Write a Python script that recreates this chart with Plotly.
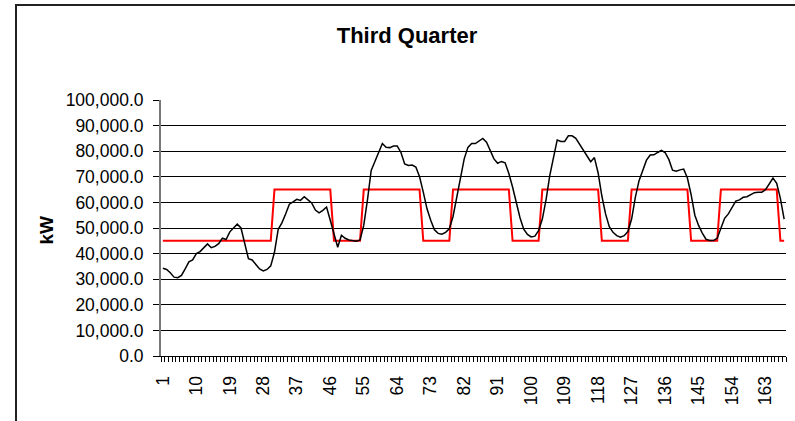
import plotly.graph_objects as go

# Hour-of-week index (7 days x 24 hours)
hours = list(range(1, 169))

# Metered load, kW
load_kw = [
    34300, 33800, 32500, 30800, 30600, 31500, 34000, 36800, 37500, 40000,
    40800, 42500, 43800, 42300, 42800, 43900, 46000, 45500, 48500, 50000,
    51500, 50000, 43500, 38000, 37500, 35800, 34000, 33200, 33800, 35200,
    40500, 49500, 52000, 55500, 59300, 60200, 61200, 60800, 62200, 61000,
    59800, 57000, 55900, 56900, 58200, 53000, 47800, 42500, 47200, 46000,
    45300, 45100, 44800, 45300, 51000, 61000, 72500, 76000, 79500, 83000,
    81500, 81400, 82000, 82000, 79500, 75000, 74400, 74600, 73800, 70000,
    64000, 57500, 53000, 49300, 47900, 47600, 48300, 49700, 54500, 62000,
    69500, 77000, 81500, 83000, 83000, 84000, 85000, 83500, 80000, 77000,
    75300, 76000, 75500, 71300, 66000, 60000, 54000, 49500, 47500, 46500,
    46800, 49000, 53500, 61000, 70500, 77500, 84400, 83800, 83800, 86000,
    86000, 85000, 82800, 80700, 78000, 75900, 77500, 71500, 62500, 55500,
    50500, 48300, 47000, 46400, 47000, 48600, 53500, 62000, 68500, 72500,
    76500, 78500, 78600, 79500, 80300, 79500, 76800, 72600, 72200, 72700,
    73000, 69500, 63000, 55000, 51000, 48000, 45600, 45100, 45100, 46000,
    50000, 53800, 55500, 58000, 60500, 61000, 62000, 62200, 63000, 63800,
    64000, 64000, 65000, 67500, 69500, 67500, 61500, 53500,
]

# Contracted demand level, kW
target_kw = [
    45000, 45000, 45000, 45000, 45000, 45000, 45000, 45000, 45000, 45000,
    45000, 45000, 45000, 45000, 45000, 45000, 45000, 45000, 45000, 45000,
    45000, 45000, 45000, 45000, 45000, 45000, 45000, 45000, 45000, 45000,
    65000, 65000, 65000, 65000, 65000, 65000, 65000, 65000, 65000, 65000,
    65000, 65000, 65000, 65000, 65000, 65000, 45000, 45000, 45000, 45000,
    45000, 45000, 45000, 45000, 65000, 65000, 65000, 65000, 65000, 65000,
    65000, 65000, 65000, 65000, 65000, 65000, 65000, 65000, 65000, 65000,
    45000, 45000, 45000, 45000, 45000, 45000, 45000, 45000, 65000, 65000,
    65000, 65000, 65000, 65000, 65000, 65000, 65000, 65000, 65000, 65000,
    65000, 65000, 65000, 65000, 45000, 45000, 45000, 45000, 45000, 45000,
    45000, 45000, 65000, 65000, 65000, 65000, 65000, 65000, 65000, 65000,
    65000, 65000, 65000, 65000, 65000, 65000, 65000, 65000, 45000, 45000,
    45000, 45000, 45000, 45000, 45000, 45000, 65000, 65000, 65000, 65000,
    65000, 65000, 65000, 65000, 65000, 65000, 65000, 65000, 65000, 65000,
    65000, 65000, 45000, 45000, 45000, 45000, 45000, 45000, 45000, 45000,
    65000, 65000, 65000, 65000, 65000, 65000, 65000, 65000, 65000, 65000,
    65000, 65000, 65000, 65000, 65000, 65000, 45000, 45000,
]

# Every ninth hour gets a label
label_hours = hours[::9]
label_text = [str(h) for h in label_hours]

FONT = "Liberation Sans, Arial, sans-serif"

fig = go.Figure()
fig.add_trace(go.Scatter(
    x=hours, y=target_kw, mode="lines",
    line=dict(color="#ff0000", width=2), showlegend=False,
))
fig.add_trace(go.Scatter(
    x=hours, y=load_kw, mode="lines",
    line=dict(color="#000000", width=1.5), showlegend=False,
))

fig.update_layout(
    width=795, height=421,
    margin=dict(l=161, r=9, t=100, b=65),
    paper_bgcolor="white", plot_bgcolor="white",
    font=dict(family=FONT, color="#000000"),
    title=dict(
        text="<b>Third Quarter</b>",
        x=407 / 795, xref="container", xanchor="center",
        y=1 - 35 / 421, yref="container", yanchor="middle",
        font=dict(family=FONT, size=22, color="#000000"),
    ),
    xaxis=dict(
        range=[0.5, 168.5],
        tickmode="array", tickvals=label_hours, ticktext=label_text,
        tickangle=-90, ticks="", ticklabelstandoff=12,
        tickfont=dict(family=FONT, size=17.5, color="#000000"),
        showgrid=False, zeroline=False,
        showline=True, linecolor="#000000", linewidth=1,
        minor=dict(ticks="outside", ticklen=5, tickwidth=1, tickcolor="#000000",
                   tickmode="linear", tick0=0.5, dtick=1, showgrid=False),
    ),
    yaxis=dict(
        range=[0, 100000], tickmode="linear", tick0=0, dtick=10000,
        tickformat=",.1f",
        tickfont=dict(family=FONT, size=17.5, color="#000000"),
        ticks="outside", ticklen=6, tickcolor="#000000",
        ticklabelstandoff=6,
        showgrid=True, gridcolor="#000000", gridwidth=1,
        zeroline=False,
        showline=True, linecolor="#777777", linewidth=2,
    ),
    shapes=[dict(
        type="rect", xref="paper", yref="paper",
        x0=(16 - 161) / 625, x1=1.2,
        y0=-0.6, y1=1 + (100 - 5) / 256,
        line=dict(color="#222222", width=2), fillcolor="rgba(0,0,0,0)",
        layer="below",
    )],
    annotations=[dict(
        text="<b>kW</b>", xref="paper", yref="paper",
        x=(47 - 161) / 625, y=0.49, xanchor="center", yanchor="middle",
        textangle=-90, showarrow=False,
        font=dict(family=FONT, size=19, color="#000000"),
    )],
)

fig.write_html("out.html")
